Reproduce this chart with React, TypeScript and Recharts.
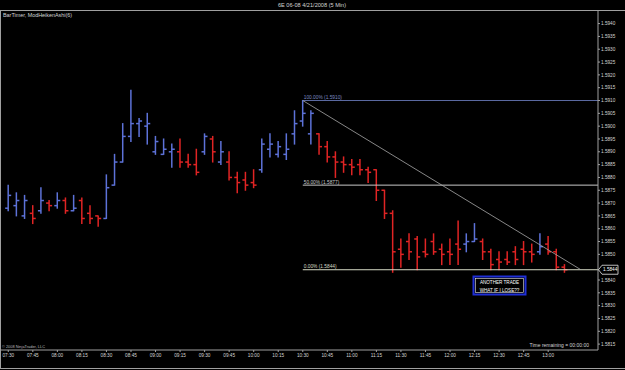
import { Bar, ComposedChart, ReferenceLine, XAxis, YAxis } from "recharts";

const FONT = "'Liberation Sans', Arial, sans-serif";
const BLUE = "#5d72d8";
const RED = "#e02424";
const FRAME = "#a0a0a0";
const TXT = "#d4d4d4";

// 5 min Heiken Ashi bars, 07:30 .. 13:10
const highs = [
  1.5877, 1.5874, 1.5873, 1.5869, 1.5876, 1.5871, 1.5874, 1.5872, 1.5873, 1.5872,
  1.5869, 1.5865, 1.5881, 1.5889, 1.5901, 1.5914, 1.5903, 1.5905, 1.5896, 1.5895,
  1.5893, 1.5895, 1.5889, 1.5891, 1.5897, 1.5896, 1.5894, 1.589, 1.5882, 1.5882,
  1.5883, 1.5895, 1.5897, 1.5894, 1.5897, 1.5906, 1.591, 1.5906, 1.5897, 1.5894,
  1.589, 1.5888, 1.5887, 1.5887, 1.5884, 1.5883, 1.5875, 1.5867, 1.5856, 1.5858,
  1.5857, 1.5856, 1.5858, 1.5854, 1.5856, 1.5863, 1.5858, 1.5862, 1.5856, 1.5852,
  1.5851, 1.5851, 1.5853, 1.5855, 1.5854, 1.5858, 1.5857, 1.5852, 1.5846,
];
const lows = [
  1.5867, 1.5865, 1.5864, 1.5862, 1.5866, 1.5867, 1.5868, 1.5866, 1.5867, 1.5862,
  1.5862, 1.5861, 1.5864, 1.5877, 1.5886, 1.5894, 1.5896, 1.5893, 1.5889, 1.5889,
  1.5884, 1.5884, 1.5884, 1.5881, 1.5889, 1.5886, 1.5885, 1.5879, 1.5874, 1.5875,
  1.5876, 1.5882, 1.5888, 1.5888, 1.5887, 1.5893, 1.59, 1.5893, 1.5889, 1.5886,
  1.588, 1.5882, 1.5881, 1.5881, 1.5878, 1.5871, 1.5864, 1.5843, 1.5845, 1.5848,
  1.5844, 1.5849, 1.585, 1.5846, 1.5846, 1.5846, 1.5851, 1.5855, 1.5848, 1.5844,
  1.5844, 1.5846, 1.5846, 1.5846, 1.5847, 1.585, 1.585, 1.5844, 1.5843,
];
const opens = [
  1.5868, 1.5869, 1.5865, 1.5866, 1.5867, 1.587, 1.5869, 1.5871, 1.5867, 1.5871,
  1.5866, 1.5865, 1.5864, 1.5877, 1.5886, 1.5896, 1.5901, 1.59, 1.589, 1.5889,
  1.589, 1.589, 1.5886, 1.5885, 1.589, 1.5895, 1.5886, 1.5886, 1.588, 1.5879,
  1.5878, 1.5883, 1.5891, 1.5889, 1.5889, 1.5897, 1.5902, 1.5897, 1.5897, 1.5892,
  1.5888, 1.5886, 1.5885, 1.5885, 1.5883, 1.5883, 1.5875, 1.5866, 1.5852, 1.5855,
  1.5856, 1.5851, 1.5855, 1.5852, 1.5851, 1.5854, 1.5854, 1.5855, 1.5855, 1.5851,
  1.5848, 1.5848, 1.5851, 1.5852, 1.5851, 1.5851, 1.5854, 1.5851, 1.5845,
];
const closes = [
  1.5873, 1.5871, 1.5871, 1.5864, 1.5871, 1.5869, 1.5871, 1.5867, 1.5868, 1.5864,
  1.5864, 1.5864, 1.5876, 1.5886, 1.5896, 1.5901, 1.5902, 1.5901, 1.5894, 1.5891,
  1.5891, 1.5886, 1.5885, 1.5882, 1.5896, 1.589, 1.589, 1.588, 1.5878, 1.5877,
  1.5877, 1.5893, 1.5893, 1.5892, 1.5891, 1.5901, 1.5905, 1.5905, 1.5892, 1.5888,
  1.5886, 1.5885, 1.5884, 1.5883, 1.5882, 1.5875, 1.5866, 1.5851, 1.585, 1.5851,
  1.5849, 1.585, 1.5851, 1.585, 1.585, 1.5852, 1.5855, 1.5856, 1.5851, 1.5846,
  1.5847, 1.5847, 1.5848, 1.5851, 1.585, 1.5853, 1.5851, 1.5845, 1.5844,
];

const xTickLabels = [
  "07:30", "07:45", "08:00", "08:15", "08:30", "08:45", "09:00", "09:15", "09:30", "09:45",
  "10:00", "10:15", "10:30", "10:45", "11:00", "11:15", "11:30", "11:45", "12:00", "12:15",
  "12:30", "12:45", "13:00",
];
// price scale labels (1.5845 sits under the last-price marker)
const yTickValues = [
  1.5815, 1.582, 1.5825, 1.583, 1.5835, 1.584, 1.585, 1.5855, 1.586, 1.5865, 1.587, 1.5875,
  1.588, 1.5885, 1.589, 1.5895, 1.59, 1.5905, 1.591, 1.5915, 1.592, 1.5925, 1.593, 1.5935, 1.594,
];

// fibonacci retracement drawn from the 10:30 high
const fibPcts = ["100.00%", "50.00%", "0.00%"];
const fibPrices = [1.591, 1.5877, 1.5844];
const fibColors = ["#5a69a0", "#c8c8c8", "#d6dac4"];
const fibStartBar = 36;
const trendStart = { bar: 36, price: 1.591 };
const trendEnd = { bar: 70, price: 1.5844 };

const X_MIN = -0.89;
const X_MAX = 72.09;
const Y_MIN = 1.58127;
const Y_MAX = 1.59453;

const rows = highs.map((h, i) => ({
  i,
  range: [lows[i], h],
  high: h,
  low: lows[i],
  open: opens[i],
  close: closes[i],
}));
const lastClose = closes[closes.length - 1];
const xTicks = xTickLabels.map((_, k) => k * 3);

function OhlcBar(props: any) {
  const { x, y, width, height, payload } = props;
  if (x == null || y == null) return null;
  const cx = x + width / 2;
  const top = Math.min(y, y + height);
  const bottom = Math.max(y, y + height);
  const span = payload.high - payload.low;
  const toY = (v: number) => (span === 0 ? top : top + ((payload.high - v) / span) * (bottom - top));
  const color = payload.close > payload.open ? BLUE : RED;
  return (
    <g stroke={color} strokeWidth={1.5}>
      <line x1={cx} x2={cx} y1={top - 0.5} y2={bottom + 0.5} />
      <line x1={cx - 3} x2={cx} y1={toY(payload.open)} y2={toY(payload.open)} />
      <line x1={cx} x2={cx + 3} y1={toY(payload.close)} y2={toY(payload.close)} />
    </g>
  );
}

function PriceTick(props: any) {
  const { x, y, payload } = props;
  const v = payload.value;
  if (v === lastClose) {
    return (
      <g>
        <polygon
          points={`${x - 2.5},${y} ${x + 1},${y - 4.5} ${x + 17},${y - 4.5} ${x + 17},${y + 4.5} ${x + 1},${y + 4.5}`}
          fill="#000"
          stroke="#e8e8e8"
          strokeWidth={0.8}
        />
        <text x={x + 2} y={y + 1.7} fontSize={4.7} fill="#fff" fontFamily={FONT}>
          {v.toFixed(4)}
        </text>
      </g>
    );
  }
  return (
    <text x={x} y={y + 1.7} fontSize={4.7} fill={TXT} fontFamily={FONT}>
      {v.toFixed(4)}
    </text>
  );
}

export default function App() {
  return (
    <div style={{ position: "absolute", left: 0, top: 0, width: 625, height: 370, background: "#000" }}>
      <ComposedChart width={625} height={370} data={rows} margin={{ top: 10, right: 0, bottom: 0, left: 1 }}>
        <XAxis
          dataKey="i"
          type="number"
          domain={[X_MIN, X_MAX]}
          allowDataOverflow
          ticks={xTicks}
          interval={0}
          tickFormatter={(v: number) => xTickLabels[Math.round(v / 3)]}
          height={20}
          stroke={FRAME}
          tickSize={2}
          tickMargin={2}
          tick={{ fill: TXT, fontSize: 4.7, fontFamily: FONT }}
        />
        <YAxis
          orientation="right"
          type="number"
          domain={[Y_MIN, Y_MAX]}
          allowDataOverflow
          ticks={[...yTickValues, lastClose]}
          interval={0}
          width={27}
          stroke={FRAME}
          tickSize={2}
          tickMargin={1}
          tick={<PriceTick />}
        />
        <Bar dataKey="range" barSize={6} isAnimationActive={false} shape={(p: any) => <OhlcBar {...p} />} />
        {fibPrices.map((p, k) => (
          <ReferenceLine
            key={fibPcts[k]}
            segment={[
              { x: fibStartBar, y: p },
              { x: X_MAX, y: p },
            ]}
            stroke={fibColors[k]}
            strokeWidth={1}
            ifOverflow="visible"
            label={(lp: any) => {
              const vb = lp.viewBox || {};
              return (
                <text x={(vb.x ?? 0) + 1} y={(vb.y ?? 0) - 1.5} fontSize={4.8} fill={k === 0 ? "#7c8ac0" : fibColors[k]} fontFamily={FONT}>
                  {`${fibPcts[k]} (${p.toFixed(4)})`}
                </text>
              );
            }}
          />
        ))}
        <ReferenceLine
          segment={[
            { x: trendStart.bar, y: trendStart.price },
            { x: trendEnd.bar, y: trendEnd.price },
          ]}
          stroke="#a8a8a8"
          strokeWidth={0.8}
          ifOverflow="visible"
        />
      </ComposedChart>
      <svg
        width={625}
        height={370}
        style={{ position: "absolute", left: 0, top: 0, pointerEvents: "none" }}
        fontFamily={FONT}
      >
        <text x={312} y={7} textAnchor="middle" fontSize={5.6} fill={TXT}>
          6E 06-08  4/21/2008 (5 Min)
        </text>
        <line x1={0} x2={625} y1={10.5} y2={10.5} stroke={FRAME} />
        <line x1={0.5} x2={0.5} y1={10} y2={369} stroke={FRAME} />
        <line x1={0} x2={625} y1={368.5} y2={368.5} stroke={FRAME} />
        <text x={3} y={17} fontSize={5.4} fill={TXT}>
          BarTimer, ModHeikenAshi(6)
        </text>
        <text x={2} y={347.5} fontSize={3.9} fill="#bcbcbc">
          © 2008 NinjaTrader, LLC
        </text>
        <text x={589} y={347} textAnchor="end" fontSize={5} fill={TXT}>
          Time remaining = 00:00:00
        </text>
        <rect x={473.5} y={276.5} width={52} height={18} fill="#000" stroke="#1f2fd6" strokeWidth={2} />
        <rect x={475.5} y={278.5} width={48} height={14} fill="none" stroke="#e8e8e8" strokeWidth={0.6} />
        <text x={499.5} y={284} textAnchor="middle" fontSize={4.6} fill="#fff">
          ANOTHER TRADE
        </text>
        <text x={499.5} y={291.5} textAnchor="middle" fontSize={4.6} fill="#fff">
          WHAT IF I LOSE??
        </text>
      </svg>
    </div>
  );
}
